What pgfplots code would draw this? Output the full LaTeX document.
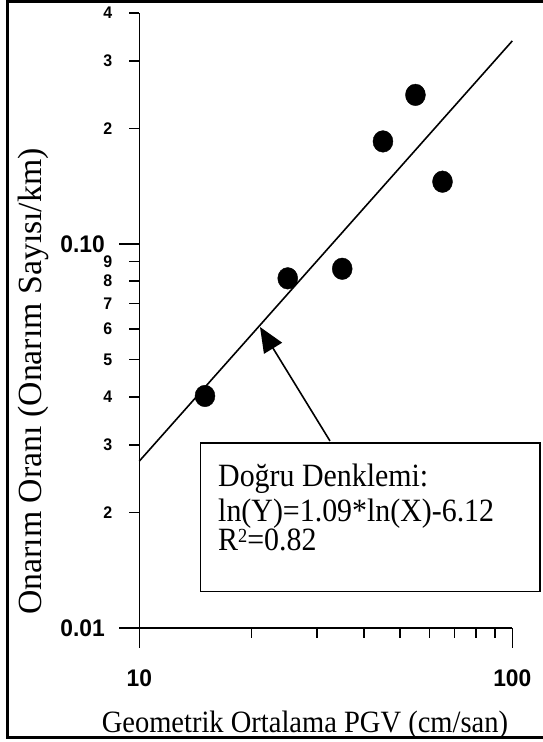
\documentclass[border=0pt]{standalone}
\usepackage{fontspec}
\setmainfont{Liberation Serif}
\newfontfamily\arialf[FakeStretch=0.95]{Liberation Sans}
\newfontfamily\condserif[FakeStretch=0.92]{Liberation Serif}
\usepackage{pgfplots}
\pgfplotsset{compat=1.18}
\usetikzlibrary{arrows.meta}

\pgfplotstableread{
x y
15 0.0402
25 0.0814
35 0.0862
45 0.185
55 0.2445
65 0.1453
}\pts
\pgfplotstableread{
x y
10 0.0272
100 0.338
}\fit

\begin{document}
\begin{tikzpicture}
\useasboundingbox (0pt,0pt) rectangle (542pt,742pt);
\draw[line width=3pt] (560pt,740.5pt) -- (7pt,740.5pt) -- (7pt,4pt) -- (560pt,4pt);
\begin{axis}[
  at={(139.3pt,114pt)}, anchor=south west,
  scale only axis, width=373pt, height=615.2pt,
  xmode=log, ymode=log,
  xmin=10, xmax=100, ymin=0.01, ymax=0.4,
  axis lines*=left,
  axis line style={line width=1.6pt},
  every tick/.style={line width=1.6pt, black},
  tick align=outside,
  major tick length=20pt, minor tick length=10pt,
  xtick={10,100}, xticklabels={10,100},
  minor xtick={20,30,40,50,60,70,80,90},
  ytick={0.01,0.1}, yticklabels={0.01,0.10},
  minor ytick={0.02,0.03,0.04,0.05,0.06,0.07,0.08,0.09,0.2,0.3,0.4},
  extra y ticks={0.02,0.03,0.04,0.05,0.06,0.07,0.08,0.09,0.2,0.3,0.4},
  extra y tick labels={2,3,4,5,6,7,8,9,2,3,4},
  extra y tick style={major tick length=10pt, yticklabel style={font=\arialf\bfseries\fontsize{16.8}{18}\selectfont, xshift=-2.5pt}},
  tick label style={font=\arialf\bfseries\fontsize{24}{26}\selectfont},
  xticklabel style={yshift=-18pt},
  yticklabel style={xshift=-11pt},
  xlabel={Geometrik Ortalama PGV (cm/san)},
  ylabel={Onarım Oranı (Onarım Sayısı/km)},
  xlabel style={font=\condserif\fontsize{31}{36}\selectfont, at={(axis description cs:0.444,0)}, anchor=base, yshift=-104pt},
  ylabel style={font=\fontsize{33.8}{38}\selectfont, at={(axis description cs:-0.263,0.4007)}, anchor=base},
  clip=false,
]
\addplot[black, line width=1.6pt] table[x=x,y=y] {\fit};
\addplot[only marks, mark=*, mark size=10.8pt, mark options={xscale=0.925}, black] table[x=x,y=y] {\pts};
\end{axis}
\draw[line width=1.6pt, fill=white] (200.5pt,150.3pt) rectangle (540pt,299pt);
\draw[line width=1.6pt, -{Triangle[length=25pt,width=21pt]}] (330pt,301pt) -- (260pt,415pt);
\node[anchor=base west, inner sep=0pt, font=\condserif\fontsize{32.5}{36}\selectfont] at (218pt,255.3pt) {Doğru Denklemi:};
\node[anchor=base west, inner sep=0pt, font=\condserif\fontsize{32.5}{36}\selectfont] at (218pt,220.3pt) {ln(Y)=1.09*ln(X)-6.12};
\node[anchor=base west, inner sep=0pt, font=\condserif\fontsize{32.5}{36}\selectfont] at (218pt,191pt) {R\raisebox{8pt}{\fontsize{20}{20}\selectfont 2}=0.82};
\end{tikzpicture}
\end{document}
